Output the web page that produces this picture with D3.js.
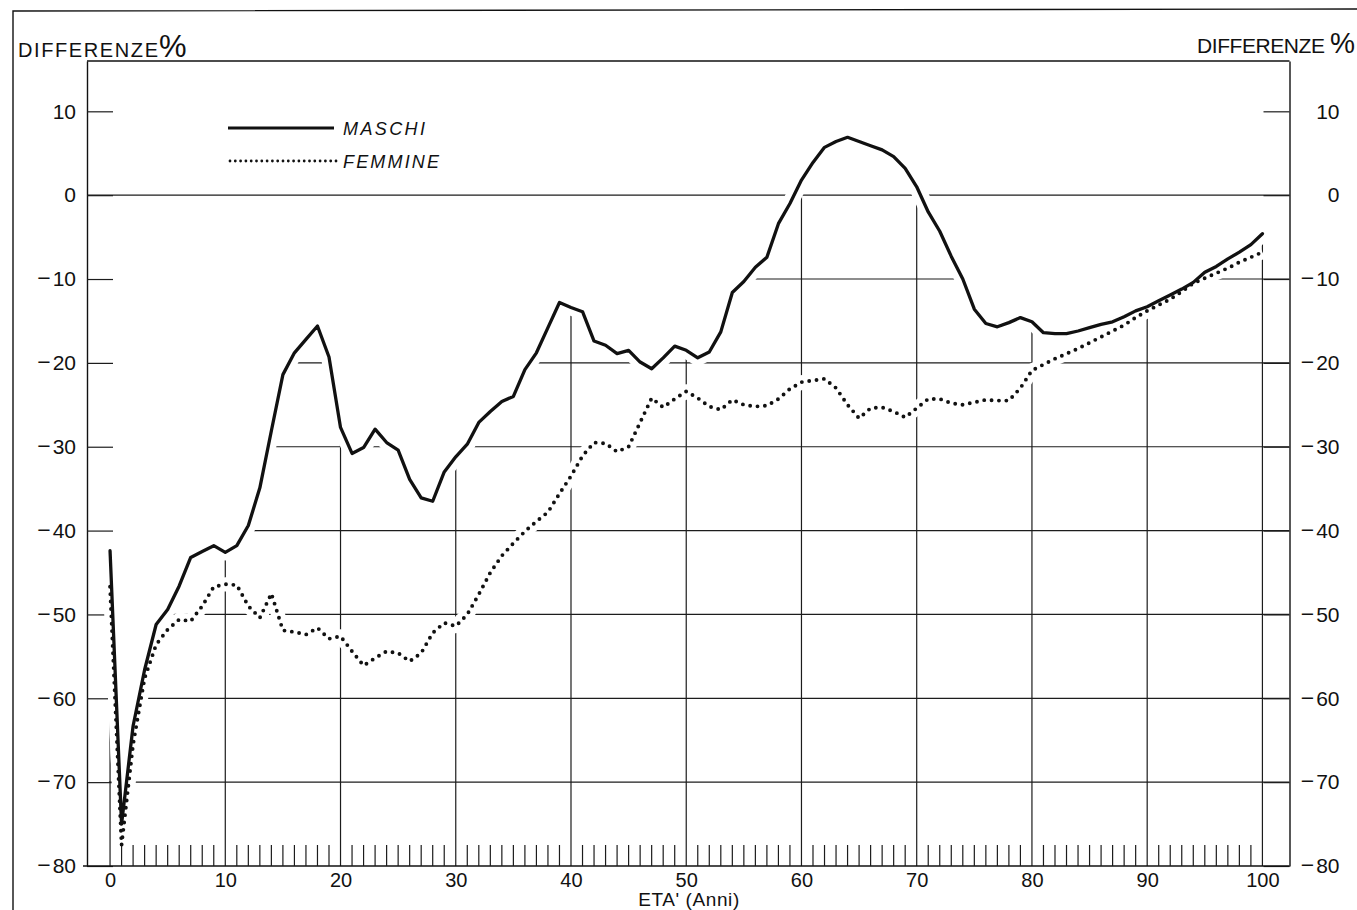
<!DOCTYPE html>
<html>
<head>
<meta charset="utf-8">
<script src="https://cdn.jsdelivr.net/npm/d3@7"></script>
<style>
  html, body { margin: 0; padding: 0; background: #fff; }
  svg { display: block; }
  text { font-family: "Liberation Sans", Arial, sans-serif; fill: #111; }
</style>
</head>
<body>
<svg id="chart" width="1357" height="910"></svg>
<script>
// Age in completed years
const ages = d3.range(0, 101);

// Percentage differences, males
const maschi = [
  -42.4, -75.0, -63.3, -56.6, -51.2, -49.4, -46.6, -43.2, -42.5, -41.8,
  -42.6, -41.8, -39.4, -34.9, -28.1, -21.4, -18.8, -17.2, -15.6, -19.3,
  -27.7, -30.8, -30.1, -27.9, -29.5, -30.4, -33.9, -36.1, -36.5, -33.0,
  -31.2, -29.7, -27.1, -25.8, -24.6, -24.0, -20.8, -18.8, -15.8, -12.8,
  -13.4, -13.9, -17.4, -17.9, -18.9, -18.5, -19.9, -20.7, -19.4, -18.0,
  -18.5, -19.4, -18.7, -16.3, -11.6, -10.3, -8.6, -7.4, -3.4, -1.0,
  1.8, 3.9, 5.7, 6.4, 6.9, 6.4, 5.9, 5.4, 4.6, 3.2,
  1.0, -2.0, -4.3, -7.3, -10.0, -13.6, -15.3, -15.7, -15.2, -14.6,
  -15.1, -16.4, -16.5, -16.5, -16.2, -15.8, -15.4, -15.1, -14.5, -13.8,
  -13.3, -12.6, -11.9, -11.2, -10.4, -9.2, -8.5, -7.6, -6.8, -5.9,
  -4.6
];

// Percentage differences, females
const femmine = [
  -46.7, -77.5, -65.5, -57.6, -53.6, -51.8, -50.6, -50.8, -49.0, -46.7,
  -46.4, -46.5, -49.0, -50.4, -47.5, -51.9, -52.1, -52.4, -51.6, -52.9,
  -52.6, -54.4, -56.1, -55.2, -54.4, -54.6, -55.6, -54.6, -52.2, -51.0,
  -51.4, -50.0, -47.6, -45.0, -43.0, -41.5, -40.1, -38.9, -37.8, -35.6,
  -33.5, -31.1, -29.5, -29.6, -30.6, -30.0, -27.1, -24.2, -25.3, -24.3,
  -23.4, -24.2, -25.2, -25.6, -24.4, -25.0, -25.2, -25.1, -24.3, -23.1,
  -22.3, -22.1, -21.9, -23.0, -25.0, -26.6, -25.4, -25.3, -25.8, -26.5,
  -25.4, -24.3, -24.3, -24.8, -25.0, -24.7, -24.4, -24.5, -24.5, -23.0,
  -20.9, -20.2, -19.5, -18.9, -18.3, -17.6, -16.9, -16.2, -15.5, -14.6,
  -13.8, -13.1, -12.4, -11.5, -10.5, -9.9, -9.3, -8.7, -8.0, -7.4,
  -6.8
];

// Axis ticks and texts
const yTicks = [10, 0, -10, -20, -30, -40, -50, -60, -70, -80];
const xTicks = [0, 10, 20, 30, 40, 50, 60, 70, 80, 90, 100];
const seriesNames = ["MASCHI", "FEMMINE"];
const yTitle = "DIFFERENZE";
const xTitle = "ETA' (Anni)";

const svg = d3.select("#chart");
const INK = "#111";

const x = d3.scaleLinear().domain([-2, 102.35]).range([87, 1289.5]);
const y = d3.scaleLinear().domain([-80, 16]).range([866, 61]);
const [xL, xR] = x.range();
const [yB, yT] = y.range();

// Outer sheet border
svg.append("path")
  .attr("d", "M13,910 L13,11 L1357,9")
  .attr("fill", "none").attr("stroke", INK).attr("stroke-width", 1.4);

// Region lying below the upper curve: grid lines are only drawn there
const upper = ages.map((a, i) => [x(a), y(Math.max(maschi[i], femmine[i]))]);
const clipPts = [[x(-0.1), upper[0][1]], ...upper,
                 [xR, upper[upper.length - 1][1]], [xR, yB], [x(-0.1), yB]];
svg.append("defs").append("clipPath").attr("id", "under")
  .append("path").attr("d", "M" + clipPts.join("L") + "Z");

const grid = svg.append("g")
  .attr("clip-path", "url(#under)")
  .attr("stroke", "#1c1c1c").attr("stroke-width", 1.2);

grid.selectAll("line.h")
  .data(yTicks.filter(v => v !== 0 && v !== -80))
  .join("line").attr("class", "h")
  .attr("x1", xL).attr("x2", xR)
  .attr("y1", d => y(d)).attr("y2", d => y(d));

grid.selectAll("line.v")
  .data(xTicks)
  .join("line").attr("class", "v")
  .attr("x1", d => x(d)).attr("x2", d => x(d))
  .attr("y1", yB).attr("y2", yT);

// Zero reference line across the whole frame
svg.append("line")
  .attr("x1", xL).attr("x2", xR).attr("y1", y(0)).attr("y2", y(0))
  .attr("stroke", "#1c1c1c").attr("stroke-width", 1.2);

// Left and right value axes (ticks point inward)
function styleAxis(g) {
  g.selectAll(".domain").attr("stroke", INK).attr("stroke-width", 1.4);
  g.selectAll(".tick line").attr("stroke", "#1c1c1c").attr("stroke-width", 1.2);
  g.selectAll(".tick text")
    .style("font-size", "21px")
    .attr("fill", INK)
    .each(function (d) {
      const t = d3.select(this);
      t.text(null);
      if (d < 0) {
        t.append("tspan").style("font-size", "23px").text("\u2212");
        t.append("tspan").attr("dx", 2).text(-d);
      } else {
        t.append("tspan").text(d);
      }
    });
}

const leftAxis = svg.append("g")
  .attr("transform", `translate(${xL},0)`)
  .call(d3.axisLeft(y).tickValues(yTicks).tickSize(-26).tickSizeOuter(0).tickPadding(11));
styleAxis(leftAxis);

const rightAxis = svg.append("g")
  .attr("transform", `translate(${xR},0)`)
  .call(d3.axisRight(y).tickValues(yTicks).tickSize(-26).tickSizeOuter(0).tickPadding(11));
styleAxis(rightAxis);
rightAxis.selectAll(".tick text").attr("text-anchor", "end").attr("x", 50);

// Top border of the plotting frame
svg.append("line")
  .attr("x1", xL).attr("x2", xR).attr("y1", yT).attr("y2", yT)
  .attr("stroke", INK).attr("stroke-width", 1.4);

// White bands under the curves interrupt the grid where the curves pass
const line = d3.line().x((d, i) => x(ages[i])).y(d => y(d));
svg.append("path").datum(maschi).attr("d", line)
  .attr("fill", "none").attr("stroke", "#fff").attr("stroke-width", 16)
  .attr("stroke-linejoin", "round");
svg.append("path").datum(femmine).attr("d", line)
  .attr("fill", "none").attr("stroke", "#fff").attr("stroke-width", 14)
  .attr("stroke-linejoin", "round");

// Age axis with yearly ticks
const bottomAxis = svg.append("g")
  .attr("transform", `translate(0,${yB})`)
  .call(d3.axisBottom(x).tickValues(xTicks).tickSize(0).tickSizeOuter(0).tickPadding(7));
bottomAxis.select(".domain").attr("stroke", INK).attr("stroke-width", 1.4)
  .attr("d", `M${xL - 4},0H${xR}`);
bottomAxis.selectAll(".tick text").style("font-size", "20px").attr("fill", INK);

svg.append("g").attr("stroke", "#1c1c1c").attr("stroke-width", 1.2)
  .selectAll("line")
  .data(ages.filter(a => a > 0 && a < 100 && a % 10 !== 0))
  .join("line")
  .attr("x1", d => x(d)).attr("x2", d => x(d))
  .attr("y1", yB).attr("y2", yB - 21);

// Curves
svg.append("path").datum(maschi).attr("d", line)
  .attr("fill", "none").attr("stroke", INK).attr("stroke-width", 3.3)
  .attr("stroke-linejoin", "round").attr("stroke-linecap", "round");
svg.append("path").datum(femmine).attr("d", line)
  .attr("fill", "none").attr("stroke", INK).attr("stroke-width", 3.9)
  .attr("stroke-linecap", "round").attr("stroke-dasharray", "0 7.4");

// Legend
const legend = svg.append("g");
legend.append("line").attr("x1", 228).attr("x2", 334).attr("y1", 128).attr("y2", 128)
  .attr("stroke", INK).attr("stroke-width", 3);
legend.append("line").attr("x1", 230).attr("x2", 337).attr("y1", 161).attr("y2", 161)
  .attr("stroke", INK).attr("stroke-width", 2.8).attr("stroke-linecap", "round")
  .attr("stroke-dasharray", "0 5.3");
legend.selectAll("text").data(seriesNames).join("text")
  .attr("x", 343).attr("y", (d, i) => 135 + i * 33)
  .attr("textLength", (d, i) => i === 0 ? 82 : 96)
  .attr("lengthAdjust", "spacing")
  .style("font-size", "18px").style("font-style", "italic")
  .text(d => d);

// Axis titles
svg.append("text").attr("x", 18).attr("y", 57)
  .attr("textLength", 140).attr("lengthAdjust", "spacing")
  .style("font-size", "20px").text(yTitle);
svg.append("text").attr("x", 159).attr("y", 57)
  .style("font-size", "31px").text("%");

svg.append("text").attr("x", 1197).attr("y", 53)
  .attr("textLength", 128).attr("lengthAdjust", "spacing")
  .style("font-size", "21px").text(yTitle);
svg.append("text").attr("x", 1330).attr("y", 53)
  .attr("textLength", 25).attr("lengthAdjust", "spacingAndGlyphs")
  .style("font-size", "30px").text("%");

svg.append("text").attr("x", 689).attr("y", 906)
  .attr("text-anchor", "middle")
  .style("font-size", "19px").style("letter-spacing", "0.6px")
  .text(xTitle);
</script>
</body>
</html>
